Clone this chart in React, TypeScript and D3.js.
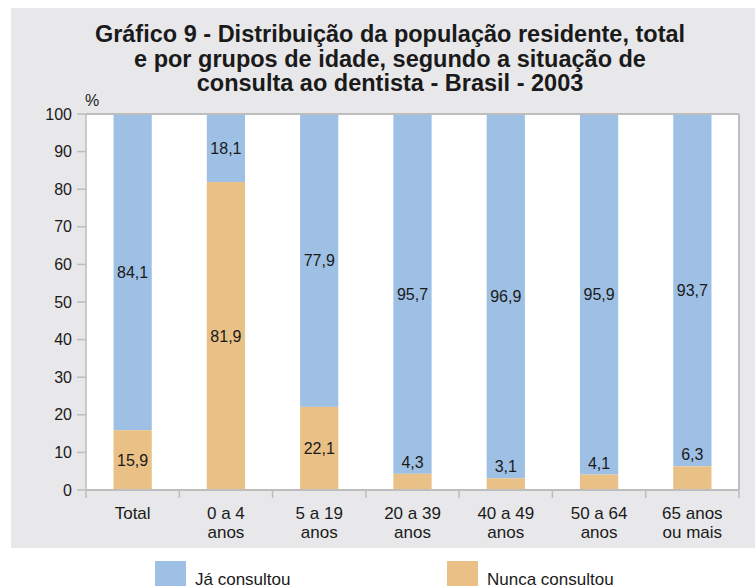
import React from 'react';
import * as d3 from 'd3';

const categories = ['Total', '0 a 4|anos', '5 a 19|anos', '20 a 39|anos', '40 a 49|anos', '50 a 64|anos', '65 anos|ou mais'];
const jaConsultou = [84.1, 18.1, 77.9, 95.7, 96.9, 95.9, 93.7];
const nuncaConsultou = [15.9, 81.9, 22.1, 4.3, 3.1, 4.1, 6.3];
const yTicks = [0, 10, 20, 30, 40, 50, 60, 70, 80, 90, 100];
const titleLines = [
  'Gráfico 9 - Distribuição da população residente, total',
  'e por grupos de idade, segundo a situação de',
  'consulta ao dentista - Brasil - 2003',
];
const legendItems = ['Já consultou', 'Nunca consultou'];

const W = 755;
const H = 586;
const BLUE = '#9fc0e5';
const ORANGE = '#e9c086';
const GRID = '#bdbdbd';
const TXT = '#1a1a1a';
const FONT = '"Liberation Sans", Arial, Helvetica, sans-serif';

export default function App() {
  const margin = { left: 86, right: 16, top: 114, bottom: 96 };
  const x0 = margin.left;
  const x1 = W - margin.right;
  const yTop = margin.top;
  const yBot = H - margin.bottom;

  const x = d3.scaleBand().domain(categories).range([x0, x1]).paddingInner(0.59).paddingOuter(0.295);
  const xb = d3.scaleBand().domain(categories).range([x0, x1]);
  const y = d3.scaleLinear().domain([0, 100]).range([yBot, yTop]);

  return (
    <svg width={W} height={H} style={{ position: 'absolute', left: 0, top: 0 }} fontFamily={FONT}>
      <rect x={11} y={8} width={W - 11} height={540} fill="#e8e8ea" />
      {titleLines.map((t, i) => (
        <text key={i} x={390} y={42 + i * 24.5} textAnchor="middle" fontWeight="bold" fontSize={23.5} fill={TXT}>
          {t}
        </text>
      ))}
      <text x={92} y={106} fontSize={16} fill={TXT} textAnchor="middle">%</text>

      <rect x={x0} y={yTop} width={x1 - x0} height={yBot - yTop} fill="#fff" />

      {categories.map((c, i) => {
        const bx = x(c) as number;
        const bw = x.bandwidth();
        const n = nuncaConsultou[i];
        const j = jaConsultou[i];
        const smallN = n < 10;
        const nLabelY = smallN ? y(n) - 6 : y(n / 2) + 6;
        return (
          <g key={c}>
            <rect x={bx} y={y(100)} width={bw} height={y(n) - y(100)} fill={BLUE} />
            <rect x={bx} y={y(n)} width={bw} height={y(0) - y(n)} fill={ORANGE} />
            <text x={bx + bw / 2} y={y(n + j / 2) + 6} textAnchor="middle" fontSize={16} fill={TXT}>
              {String(j).replace('.', ',')}
            </text>
            <text x={bx + bw / 2} y={nLabelY} textAnchor="middle" fontSize={16} fill={TXT}>
              {String(n).replace('.', ',')}
            </text>
          </g>
        );
      })}

      {/* frame */}
      <line x1={x0} x2={x1} y1={yTop} y2={yTop} stroke={GRID} strokeWidth={2} />
      <line x1={x1} x2={x1} y1={yTop} y2={yBot} stroke={GRID} strokeWidth={2} />
      <line x1={x0} x2={x0} y1={yTop} y2={yBot + 8} stroke={GRID} strokeWidth={1.5} />
      <line x1={x0} x2={x1} y1={yBot} y2={yBot} stroke={GRID} strokeWidth={2} />

      {/* y axis */}
      {yTicks.map((t) => (
        <g key={t}>
          <line x1={x0 - 9} x2={x0} y1={y(t)} y2={y(t)} stroke={GRID} strokeWidth={1.5} />
          <text x={x0 - 14} y={y(t) + 5.5} textAnchor="end" fontSize={16} fill={TXT}>{t}</text>
        </g>
      ))}

      {/* x axis */}
      {categories.map((c) => {
        const bx = xb(c) as number;
        const lines = c.split('|');
        return (
          <g key={c}>
            <line x1={bx + xb.bandwidth()} x2={bx + xb.bandwidth()} y1={yBot} y2={yBot + 8} stroke={GRID} strokeWidth={1.5} />
            {lines.map((l, k) => (
              <text key={k} x={bx + xb.bandwidth() / 2} y={yBot + 29 + k * 19} textAnchor="middle" fontSize={17} fill={TXT}>
                {l}
              </text>
            ))}
          </g>
        );
      })}

      {/* legend */}
      {legendItems.map((l, i) => {
        const lx = i === 0 ? 155 : 447;
        return (
          <g key={l}>
            <rect x={lx} y={561} width={31} height={30} fill={i === 0 ? BLUE : ORANGE} />
            <text x={lx + 40} y={585} fontSize={17} fill={TXT}>{l}</text>
          </g>
        );
      })}
    </svg>
  );
}
